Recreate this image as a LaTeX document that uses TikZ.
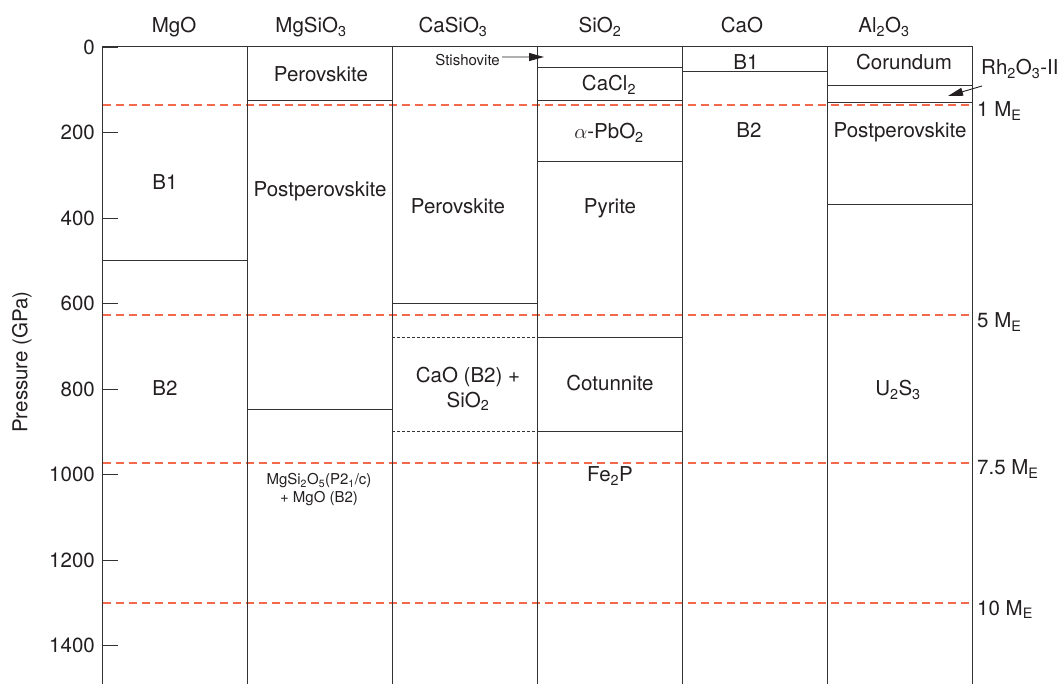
\documentclass[tikz,border=0pt]{standalone}
\usepackage{fontspec}
\setmainfont{TeX Gyre Heros}
\usetikzlibrary{arrows.meta}
\definecolor{txt}{HTML}{231F20}
\definecolor{ln}{HTML}{333333}
\definecolor{me}{HTML}{F26A4B}
\newcommand{\sbs}[1]{\textsubscript{#1}}
\begin{document}
\begin{tikzpicture}[x=1pt,y=-1pt,
  lbl/.style={text=txt,font=\fontsize{20.5}{25}\selectfont,inner sep=0pt,align=center},
  small/.style={text=txt,font=\fontsize{15}{18}\selectfont,inner sep=0pt,align=center},
  frame/.style={draw=ln,line width=1pt},
  bnd/.style={draw=ln,line width=1pt},
  tick/.style={draw=ln,line width=0.9pt},
  dotb/.style={draw=ln,line width=1pt,dash pattern=on 2.5pt off 2.5pt},
  mearth/.style={draw=me,line width=1.7pt,dash pattern=on 8pt off 5pt},
  ptr/.style={draw=txt,line width=0.9pt,-{Triangle[length=15pt,width=8pt]}}]
\useasboundingbox (0,0) rectangle (1061,684);

% Earth-mass dashed lines
\foreach \y in {105,315,463,603}
  \draw[mearth] (102.5,\y) -- (972.3,\y);

% frame and column lines
\draw[frame] (102.5,684) -- (102.5,47) -- (972.3,47) -- (972.3,684);
\foreach \x in {247.3,392.3,537.3,682.3,827.3}
  \draw[frame] (\x,47) -- (\x,684);

% ticks
\foreach \p/\y in {0/47,200/132.5,400/218,600/303.5,800/389,1000/474.5,1200/560,1400/645.5}{
  \draw[tick] (102.5,\y) -- (117.5,\y);
  \node[lbl,anchor=east] (t\p) at (95,\y) {\p};
}
\node[lbl,rotate=90] (axis) at (22,362) {Pressure (GPa)};

% headers
\node[lbl,anchor=base] (hMgO) at (174,33) {MgO};
\node[lbl,anchor=base] (hMgSiO3) at (311,33) {MgSiO\sbs{3}};
\node[lbl,anchor=base] (hCaSiO3) at (453,33) {CaSiO\sbs{3}};
\node[lbl,anchor=base] (hSiO2) at (600,33) {SiO\sbs{2}};
\node[lbl,anchor=base] (hCaO) at (742,33) {CaO};
\node[lbl,anchor=base] (hAl2O3) at (884,33) {Al\sbs{2}O\sbs{3}};

% MgO
\draw[bnd] (102.5,261) -- (247.3,261);
\node[lbl,anchor=base] (mgoB1) at (165,190) {B1};
\node[lbl,anchor=base] (mgoB2) at (165,396) {B2};

% MgSiO3
\draw[bnd] (247.3,101) -- (392.3,101);
\draw[bnd] (247.3,410) -- (392.3,410);
\node[lbl,anchor=base] (msPv) at (321,82) {Perovskite};
\node[lbl,anchor=base] (msPPv) at (320,197) {Postperovskite};
\node[small] (msDec) at (319,490) {MgSi\sbs{2}O\sbs{5}(P2\sbs{1}/c)\\+ MgO (B2)};

% CaSiO3
\draw[bnd] (392.3,304) -- (537.3,304);
\draw[dotb] (392.3,338) -- (537.3,338);
\draw[dotb] (392.3,432) -- (537.3,432);
\node[lbl,anchor=base] (csPv) at (458,214) {Perovskite};
\node[lbl] (csDec) at (468,389) {CaO (B2) +\\SiO\sbs{2}};

% SiO2
\draw[bnd] (537.3,68) -- (682.3,68);
\draw[bnd] (537.3,101) -- (682.3,101);
\draw[bnd] (537.3,162) -- (682.3,162);
\draw[bnd] (537.3,338) -- (682.3,338);
\draw[bnd] (537.3,432) -- (682.3,432);
\node[lbl,anchor=base] (sCaCl) at (609,91) {CaCl\sbs{2}};
\node[lbl,anchor=base] (sPb) at (609,139) {$\alpha$-PbO\sbs{2}};
\node[lbl,anchor=base] (sPy) at (610,214) {Pyrite};
\node[lbl,anchor=base] (sCot) at (610,391) {Cotunnite};
\node[lbl,anchor=base] (sFe) at (610,482) {Fe\sbs{2}P};
\node[small,anchor=base east] (stish) at (500,66) {Stishovite};
\coordinate (stip) at (544,57);
\draw[ptr] ([shift={(2pt,3.5pt)}]stish.east) -- (stip);

% CaO
\draw[bnd] (682.3,72) -- (827.3,72);
\node[lbl,anchor=base] (caB1) at (746,70) {B1};
\node[lbl,anchor=base] (caB2) at (749,138) {B2};

% Al2O3
\draw[bnd] (827.3,86) -- (972.3,86);
\draw[bnd] (827.3,103) -- (972.3,103);
\draw[bnd] (827.3,205) -- (972.3,205);
\node[lbl,anchor=base] (alCor) at (904,70) {Corundum};
\node[lbl,anchor=base] (alPPv) at (900,138) {Postperovskite};
\node[lbl,anchor=base] (alU) at (898,396) {U\sbs{2}S\sbs{3}};
\node[lbl,anchor=base west] (rh) at (981,75) {Rh\sbs{2}O\sbs{3}-II};
\coordinate (rtip) at (948,96);
\draw[ptr] ([shift={(1pt,-11pt)}]rh.base west) -- (rtip);

% Earth-mass labels
\node[lbl,anchor=base west] (m1) at (977,117) {1 M\sbs{E}};
\node[lbl,anchor=base west] (m5) at (977,328) {5 M\sbs{E}};
\node[lbl,anchor=base west] (m75) at (977,475) {7.5 M\sbs{E}};
\node[lbl,anchor=base west] (m10) at (977,615) {10 M\sbs{E}};
\end{tikzpicture}
\end{document}
